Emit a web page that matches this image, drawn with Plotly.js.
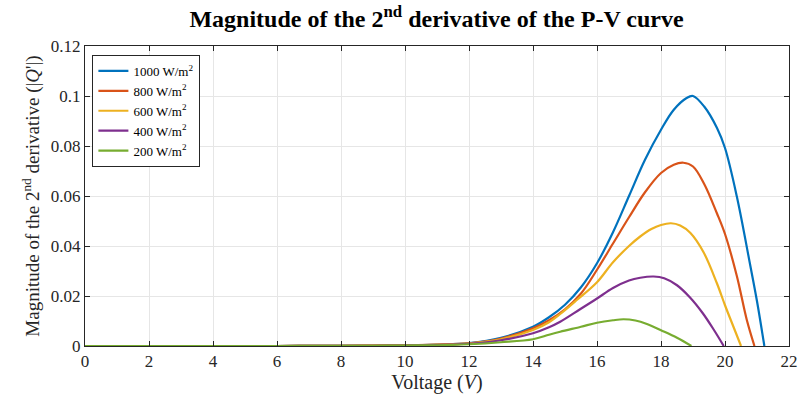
<!DOCTYPE html>
<html>
<head>
<meta charset="utf-8">
<script src="https://cdn.plot.ly/plotly-3.0.1.min.js"></script>
<style>html,body{margin:0;padding:0;background:#fff;}#chart{width:801px;height:404px;}</style>
</head>
<body>
<div id="chart"></div>
<script>
const seriesNames = ["1000 W/m<sup>2</sup>", "800 W/m<sup>2</sup>", "600 W/m<sup>2</sup>", "400 W/m<sup>2</sup>", "200 W/m<sup>2</sup>"];
const seriesColors = ["#0072BD", "#D95319", "#EDB120", "#7E2F8E", "#77AC30"];

const x1000 = [0,2,4,6,8,9,10,11,12,13,14,14.5,15,15.5,16,16.5,17,17.5,18,18.4,18.8,19,19.35,19.75,20,20.37,20.79,21,21.23];
const y1000 = [0,0,0,0,0.0001,0.0002,0.0003,0.0006,0.0012,0.0033,0.0077,0.0115,0.0165,0.0235,0.0331,0.0455,0.060,0.0745,0.0865,0.0945,0.0992,0.1,0.0958,0.0872,0.0792,0.0598,0.0322,0.0179,0];

const x800 = [0,2,4,6,8,9,10,11,12,13,14,14.5,15,15.5,16,16.5,17,17.5,18,18.4,18.7,19,19.35,19.75,20,20.37,20.68,20.92];
const y800 = [0,0,0,0,0.0001,0.0002,0.0003,0.0006,0.0011,0.003,0.0071,0.0103,0.0147,0.021,0.0305,0.041,0.0515,0.0615,0.0692,0.0725,0.0733,0.0718,0.0648,0.053,0.0448,0.028,0.0105,0];

const x600 = [0,2,4,6,8,9,10,11,12,13,14,14.5,14.85,15.37,16,16.5,17,17.35,17.7,18,18.31,18.6,18.92,19.33,19.75,20,20.27,20.5];
const y600 = [0,0,0,0,0.0001,0.0002,0.0003,0.0005,0.001,0.0027,0.0064,0.0095,0.0128,0.0184,0.0255,0.0335,0.040,0.0438,0.0468,0.0484,0.0491,0.0482,0.0452,0.0375,0.025,0.0163,0.0075,0];

const x400 = [0,2,4,6,8,9,10,11,12,13,14,14.5,14.85,15.47,16,16.5,17,17.35,17.77,18.1,18.5,18.9,19.3,19.65,19.96];
const y400 = [0,0,0,0,0.0001,0.0001,0.0002,0.0004,0.0009,0.0023,0.0051,0.0075,0.0097,0.0147,0.019,0.0232,0.0262,0.0273,0.0278,0.0271,0.0243,0.0195,0.0132,0.0065,0];

const x200 = [0,2,4,6,8,9,10,11,12,13,14,14.5,14.85,15.5,16,16.5,16.83,17.2,17.56,18,18.5,18.95];
const y200 = [0,0,0,0,0.0001,0.0001,0.0002,0.0003,0.0007,0.0015,0.0027,0.0045,0.0057,0.0077,0.0093,0.0103,0.0107,0.0102,0.0088,0.0063,0.0033,0];

const xs = [x1000, x800, x600, x400, x200];
const ys = [y1000, y800, y600, y400, y200];

const FONT = "'Liberation Serif', 'Times New Roman', serif";

const traces = xs.map((x, i) => ({
  x: x, y: ys[i], type: 'scatter', mode: 'lines', name: seriesNames[i],
  line: {color: seriesColors[i], width: 2.2, shape: 'spline', smoothing: 1.0}
}));

const axisCommon = {
  showline: true, mirror: 'ticks', linecolor: '#262626', linewidth: 1,
  ticks: 'inside', ticklen: 5, tickcolor: '#262626',
  showgrid: true, gridcolor: '#e6e6e6', gridwidth: 1,
  zeroline: false,
  tickfont: {family: FONT, size: 17, color: '#262626'}
};

const layout = {
  width: 801, height: 404,
  margin: {l: 85, r: 12, t: 46, b: 58},
  paper_bgcolor: '#fff', plot_bgcolor: '#fff',
  font: {family: FONT, color: '#262626'},
  title: {
    text: '<b>Magnitude of the 2<sup>nd</sup> derivative of the P-V curve</b>',
    font: {family: FONT, size: 24, color: '#000'},
    x: 0.545, xanchor: 'center', y: 0.955, yanchor: 'middle'
  },
  xaxis: Object.assign({}, axisCommon, {
    range: [0, 22], dtick: 2, tick0: 0,
    title: {text: 'Voltage (<i>V</i>)', font: {family: FONT, size: 20, color: '#262626'}, standoff: 3}
  }),
  yaxis: Object.assign({}, axisCommon, {
    range: [0, 0.12], dtick: 0.02, tick0: 0,
    title: {text: "Magnitude of the 2<sup>nd</sup> derivative (|<i>Q</i>'|)", font: {family: FONT, size: 19, color: '#262626'}, standoff: 6}
  }),
  showlegend: true,
  legend: {
    x: 0.0105, y: 0.97, xanchor: 'left', yanchor: 'top',
    bgcolor: '#fff', bordercolor: '#262626', borderwidth: 1,
    font: {family: FONT, size: 13, color: '#000'},
    itemwidth: 30, tracegroupgap: 0
  }
};

Plotly.newPlot('chart', traces, layout, {displayModeBar: false, staticPlot: true});
</script>
</body>
</html>
